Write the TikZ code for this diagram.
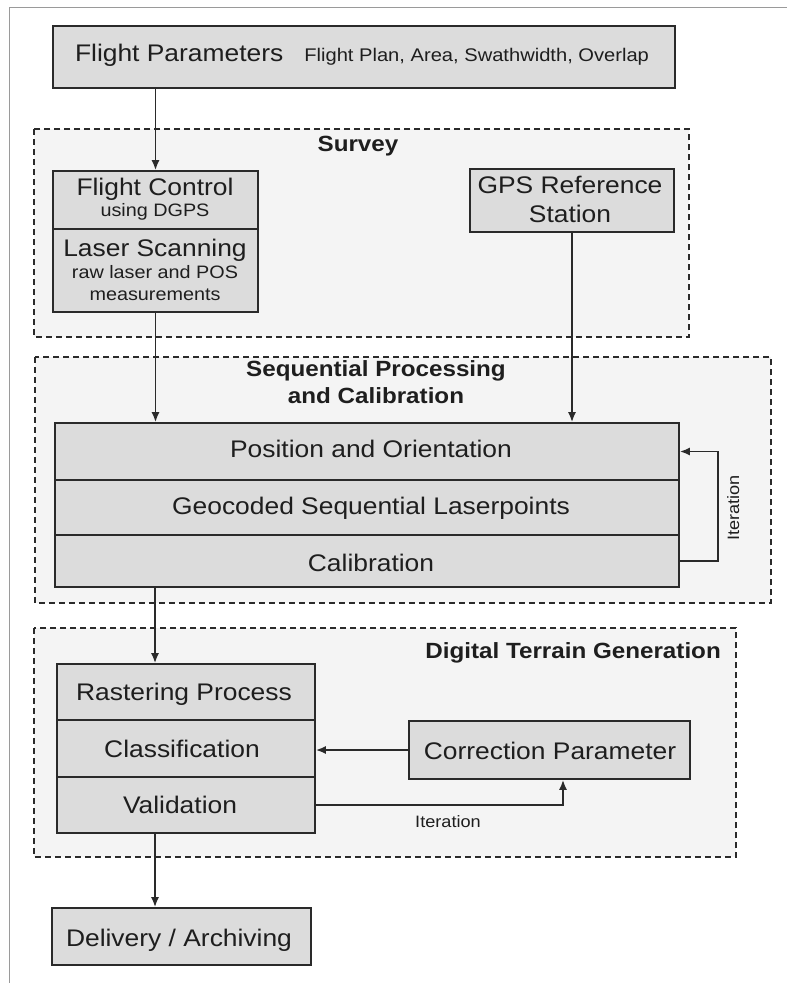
\documentclass[tikz,border=0pt]{standalone}
\usepackage{fontspec}
\setmainfont[FakeStretch=1.1]{Liberation Sans}
\usetikzlibrary{arrows.meta}
\definecolor{boxfill}{HTML}{DCDCDC}
\definecolor{areafill}{HTML}{F4F4F4}
\definecolor{boxline}{HTML}{2A2A2A}
\definecolor{txt}{HTML}{1E1E1E}
\definecolor{framec}{HTML}{9A9A9A}
\begin{document}
\begin{tikzpicture}[x=1pt,y=-1pt,
  box/.style={draw=boxline, fill=boxfill, line width=1.7pt, inner sep=0pt, rectangle},
  area/.style={draw=boxline, fill=areafill, line width=1.5pt, dash pattern=on 6pt off 4pt},
  lbl/.style={anchor=base, inner sep=0pt, text=txt},
  big/.style={font=\fontsize{24}{28}\selectfont},
  small/.style={font=\fontsize{18}{22}\selectfont},
  head/.style={font=\bfseries\fontsize{22}{26}\selectfont},
  note/.style={font=\fontsize{16.5}{19}\selectfont},
  arr/.style={draw=boxline, line width=1.7pt, -{Latex[length=10pt,width=8pt]}},
  conn/.style={draw=boxline, line width=1.7pt}
]
\useasboundingbox (0,0) rectangle (787,983);
\fill[white] (0,0) rectangle (787,983);
% frame
\draw[framec, line width=1pt] (787,7) -- (9,7) -- (9,983);

% areas
\path[area] (34,129) rectangle (689,337);
\path[area] (35,357) rectangle (771,603);
\path[area] (34,628) rectangle (736,857);

\coordinate (col) at (155,0);
\coordinate (it2) at (563,0);

% boxes
\node[box, minimum width=622pt, minimum height=62pt] (fp) at (364,57) {};
\node[box, minimum width=205pt, minimum height=58pt] (fc) at (155.5,200) {};
\node[box, minimum width=205pt, minimum height=83pt] (ls) at (155.5,270.5) {};
\node[box, minimum width=204pt, minimum height=63pt] (gps) at (572,200.5) {};
\node[box, minimum width=624pt, minimum height=57pt] (po) at (367,451.5) {};
\node[box, minimum width=624pt, minimum height=55pt] (gsl) at (367,507.5) {};
\node[box, minimum width=624pt, minimum height=52pt] (cal) at (367,561) {};
\node[box, minimum width=258pt, minimum height=56pt] (rp) at (186,692) {};
\node[box, minimum width=258pt, minimum height=57pt] (cl) at (186,748.5) {};
\node[box, minimum width=258pt, minimum height=56pt] (va) at (186,805) {};
\node[box, minimum width=281pt, minimum height=58pt] (cp) at (549.5,750) {};
\node[box, minimum width=259pt, minimum height=57pt] (da) at (181.5,936.5) {};

% texts
\node[lbl] (fpt) at (362,61) {\fontsize{24}{28}\selectfont Flight Parameters\hspace{21pt}\fontsize{18.3}{22}\selectfont Flight Plan, Area, Swathwidth, Overlap};
\node[lbl, head] (survey) at (358,151) {Survey};
\node[lbl, big] (fct) at (155,195) {Flight Control};
\node[lbl, small] (fcs) at (155,216) {using DGPS};
\node[lbl, big] (lst) at (155,256.5) {Laser Scanning};
\node[lbl, small] (lss1) at (155,278) {raw laser and POS};
\node[lbl, small] (lss2) at (155,300) {measurements};
\node[lbl, big] (gpst1) at (570,193) {GPS Reference};
\node[lbl, big] (gpst2) at (570,222) {Station};
\node[lbl, head] (seq1) at (376,376) {Sequential Processing};
\node[lbl, head] (seq2) at (376,403) {and Calibration};
\node[lbl, big] (pot) at (371,457) {Position and Orientation};
\node[lbl, big] (gslt) at (371,514) {Geocoded Sequential Laserpoints};
\node[lbl, big] (calt) at (371,571) {Calibration};
\node[lbl, head, anchor=base east] (dtg) at (721,658) {Digital Terrain Generation};
\node[lbl, big] (rpt) at (184,700) {Rastering Process};
\node[lbl, big] (clt) at (182,757) {Classification};
\node[lbl, big] (vat) at (180,813) {Validation};
\node[lbl, big] (cpt) at (550,759) {Correction Parameter};
\node[lbl, big] (dat) at (179,946) {Delivery / Archiving};
\node[lbl, note, rotate=90] (it1t) at (739,508) {Iteration};
\node[lbl, note] (it2t) at (448,827) {Iteration};

% connectors
\draw[arr] (fc.north |- fp.south) -- (fc.north);
\draw[arr] (ls.south) -- (po.north -| ls.south);
\draw[arr] (gps.south) -- (po.north -| gps.south);
\draw[arr] (cal.east) -- ++(38,0) |- (po.east);
\draw[arr] (cal.south -| col) -- (rp.north -| col);
\draw[arr] (cp.west) -- (cl.east |- cp.west);
\draw[arr] (va.east) -| (cp.south -| it2);
\draw[arr] (va.south -| col) -- (da.north -| col);
\end{tikzpicture}
\end{document}
